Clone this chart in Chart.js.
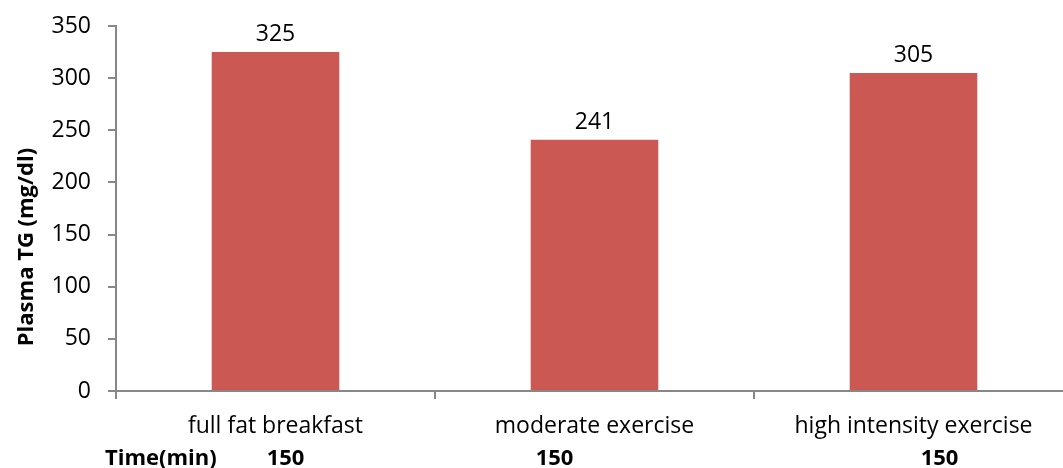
<!DOCTYPE html>
<html>
<head>
<meta charset="utf-8">
<script src="https://cdn.jsdelivr.net/npm/chart.js@4.4.1/dist/chart.umd.min.js"></script>
<style>
  html, body { margin: 0; padding: 0; background: #fff; overflow: hidden; }
  #wrap { width: 1073px; height: 468px; position: relative; }
</style>
</head>
<body>
<div id="wrap"><canvas id="tgChart"></canvas></div>
<script>
// Chart data
const categories = ['full fat breakfast', 'moderate exercise', 'high intensity exercise'];
const plasmaTG = [325, 241, 305];
const timeLabel = 'Time(min)';
const timeValues = ['150', '150', '150'];
const yTicks = [0, 50, 100, 150, 200, 250, 300, 350];

const FONT = '"Open Sans", "Noto Sans", sans-serif';
const AXIS_GREY = '#878787';
const BAR_RED = '#CC5854';

// value labels above each bar
const barLabels = {
  id: 'barLabels',
  afterDatasetsDraw(chart) {
    const ctx = chart.ctx;
    const meta = chart.getDatasetMeta(0);
    ctx.save();
    ctx.font = '23px ' + FONT;
    ctx.fillStyle = '#000';
    ctx.textAlign = 'center';
    ctx.textBaseline = 'alphabetic';
    meta.data.forEach((bar, i) => {
      ctx.fillText(plasmaTG[i], bar.x, bar.y - 11);
    });
    ctx.restore();
  }
};

// y title and the Time(min) row underneath
const extraText = {
  id: 'extraText',
  afterDraw(chart) {
    const ctx = chart.ctx;
    const area = chart.chartArea;
    const xs = chart.scales.x;
    ctx.save();
    ctx.fillStyle = '#000';

    // rotated axis title
    ctx.font = 'bold 22px ' + FONT;
    ctx.textAlign = 'center';
    ctx.textBaseline = 'middle';
    ctx.translate(27, (area.top + chart.height) / 2);
    ctx.rotate(-Math.PI / 2);
    ctx.fillText('Plasma TG (mg/dl)', 0, 0);
    ctx.setTransform(1, 0, 0, 1, 0, 0);

    // time row
    ctx.font = 'bold 22px ' + FONT;
    ctx.textBaseline = 'alphabetic';
    ctx.textAlign = 'left';
    ctx.fillText(timeLabel, 105, 465);
    ctx.textAlign = 'center';
    const shift = [10, -40, 26];
    timeValues.forEach((t, i) => {
      ctx.fillText(t, xs.getPixelForValue(i) + shift[i], 465);
    });
    ctx.restore();
  }
};

new Chart(document.getElementById('tgChart'), {
  type: 'bar',
  data: {
    labels: categories,
    datasets: [{
      label: 'Plasma TG',
      data: plasmaTG,
      backgroundColor: BAR_RED,
      borderWidth: 0,
      categoryPercentage: 1,
      barPercentage: 0.4
    }]
  },
  options: {
    responsive: true,
    maintainAspectRatio: false,
    animation: false,
    layout: { padding: { top: 26, left: 0, right: 0, bottom: 0 } },
    plugins: {
      legend: { display: false },
      tooltip: { enabled: false }
    },
    scales: {
      x: {
        grid: {
          offset: true,
          drawOnChartArea: false,
          drawTicks: true,
          tickLength: 8,
          color: AXIS_GREY,
          lineWidth: 2
        },
        border: { color: AXIS_GREY, width: 2 },
        ticks: {
          color: '#000',
          font: { family: FONT, size: 23 },
          padding: 14,
          maxRotation: 0,
          autoSkip: false
        },
        afterFit(scale) {
          scale.height = 77;
          scale.paddingLeft = 0;
          scale.paddingRight = 0;
        }
      },
      y: {
        min: 0,
        max: 350,
        afterBuildTicks(scale) { scale.ticks = yTicks.map(v => ({ value: v })); },
        grid: {
          drawOnChartArea: false,
          drawTicks: true,
          tickLength: 8,
          color: AXIS_GREY,
          lineWidth: 2
        },
        border: { color: AXIS_GREY, width: 2 },
        ticks: {
          color: '#000',
          font: { family: FONT, size: 23 },
          padding: 17
        },
        afterFit(scale) {
          scale.width = 116;
          scale.paddingTop = 0;
          scale.paddingBottom = 0;
        }
      }
    }
  },
  plugins: [barLabels, extraText]
});
</script>
</body>
</html>
